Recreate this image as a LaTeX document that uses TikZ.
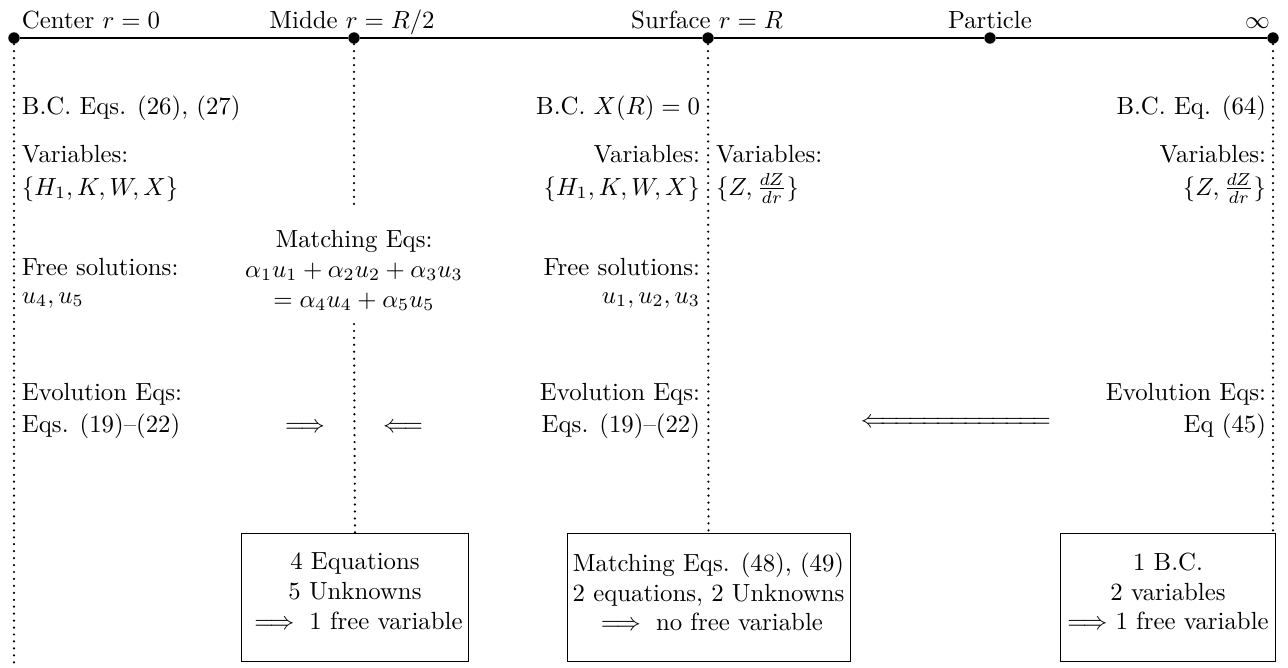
\documentclass[tikz,border=0pt]{standalone}
\usepackage{amsmath}
\begin{document}
\begin{tikzpicture}[x=0.4032pt,y=-0.4032pt,
  txt/.style={inner sep=0pt, outer sep=0pt},
  dotline/.style={line width=1pt, dash pattern=on 0pt off 2.8pt, line cap=round},
  dotpt/.style={circle, fill=black, inner sep=0pt, minimum size=4.6pt},
  boxn/.style={draw, line width=0.4pt, inner sep=0pt, minimum height=51.6pt},
  boxtxt/.style={inner sep=0pt, align=center, anchor=north},
]
\useasboundingbox (0,0) rectangle (1288,667);

% axis
\node[dotpt] (c) at (14,38) {};
\node[dotpt] (m) at (354,38) {};
\node[dotpt] (s) at (708,38) {};
\node[dotpt] (p) at (990,38) {};
\node[dotpt] (i) at (1273,38) {};
\draw[line width=0.9pt] (c) -- (m) -- (s) -- (p) -- (i);

\node[txt, anchor=base west] (lc) at (22,28) {Center $r=0$};
\node[txt, anchor=base] (lm) at (352,28) {Midde $r=R/2$};
\node[txt, anchor=base] (ls) at (707,28) {Surface $r=R$};
\node[txt, anchor=base] (lp) at (990,28) {Particle};
\node[txt, anchor=base east] (li) at (1270,28) {$\infty$};

% left column
\node[txt, anchor=base west] (c1) at (22,114) {B.C. Eqs. (26), (27)};
\node[txt, anchor=base west] (c2) at (22,162) {Variables:};
\node[txt, anchor=base west] (c3) at (22,195) {$\{H_1,K,W,X\}$};
\node[txt, anchor=base west] (c4) at (22,275) {Free solutions:};
\node[txt, anchor=base west] (c5) at (22,303) {$u_4,u_5$};
\node[txt, anchor=base west] (c6) at (22,400) {Evolution Eqs:};
\node[txt, anchor=base west] (c7) at (22,432) {Eqs. (19)--(22)};

% middle
\node[txt, anchor=base] (m1) at (354,247) {Matching Eqs:};
\node[txt, anchor=base] (m2) at (354,277) {$\alpha_1u_1+\alpha_2u_2+\alpha_3u_3$};
\node[txt, anchor=base] (m3) at (354,307) {$=\alpha_4u_4+\alpha_5u_5$};
\node[txt, anchor=base] (a1) at (305,432) {$\Longrightarrow$};
\node[txt, anchor=base] (a2) at (403,432) {$\Longleftarrow$};

% surface, inner side
\node[txt, anchor=base east] (s1) at (700,114) {B.C. $X(R)=0$};
\node[txt, anchor=base east] (s2) at (700,162) {Variables:};
\node[txt, anchor=base east] (s3) at (700,195) {$\{H_1,K,W,X\}$};
\node[txt, anchor=base east] (s4) at (700,275) {Free solutions:};
\node[txt, anchor=base east] (s5) at (700,303) {$u_1,u_2,u_3$};
\node[txt, anchor=base east] (s6) at (700,400) {Evolution Eqs:};
\node[txt, anchor=base east] (s7) at (700,432) {Eqs. (19)--(22)};

% surface, outer side
\node[txt, anchor=base west] (o1) at (716,162) {Variables:};
\node[txt, anchor=base west] (o2) at (716,195) {$\{Z,\frac{dZ}{dr}\}$};

% infinity column
\node[txt, anchor=base east] (i1) at (1266,114) {B.C. Eq. (64)};
\node[txt, anchor=base east] (i2) at (1266,162) {Variables:};
\node[txt, anchor=base east] (i3) at (1266,195) {$\{Z,\frac{dZ}{dr}\}$};
\node[txt, anchor=base east] (i6) at (1266,400) {Evolution Eqs:};
\node[txt, anchor=base east] (i7) at (1266,432) {Eq (45)};

\node[txt, anchor=base] (la) at (956,427) {$\Leftarrow\mkern-4mu\Relbar\mkern-4mu\Relbar\mkern-4mu\Relbar\mkern-4mu\Relbar\mkern-4mu\Relbar\mkern-4mu\Relbar\mkern-4mu\Relbar\mkern-4mu\Relbar\mkern-4mu\Relbar\mkern-4mu\Relbar\mkern-4mu\Relbar\mkern-4mu\Relbar$};

% boxes
\node[boxn, minimum width=91.9pt] (b1) at (355,597) {};
\node[boxn, minimum width=114.1pt] (b2) at (708.5,597) {};
\node[boxn, minimum width=86.3pt] (b3) at (1168,597) {};

\node[boxtxt] (t1) at ([yshift=-8pt]b1.north) {4 Equations\\5 Unknowns\\$\implies$ 1 free variable};
\node[boxtxt] (t2) at ([yshift=-8pt]b2.north) {Matching Eqs. (48), (49)\\2 equations, 2 Unknowns\\$\implies$ no free variable};
\node[boxtxt] (t3) at ([yshift=-8pt]b3.north) {1 B.C.\\2 variables\\$\Longrightarrow$ 1 free variable};

% dotted verticals
\coordinate (cbot) at (14,667);
\coordinate (mgap1) at (354,204);
\coordinate (mgap2) at (354,324);
\draw[dotline] (c) -- (cbot);
\draw[dotline] (m) -- (mgap1);
\draw[dotline] (mgap2) -- (b1.north);
\draw[dotline] (s) -- (b2.north);
\draw[dotline] (i) -- (i |- b3.north);
\end{tikzpicture}
\end{document}
